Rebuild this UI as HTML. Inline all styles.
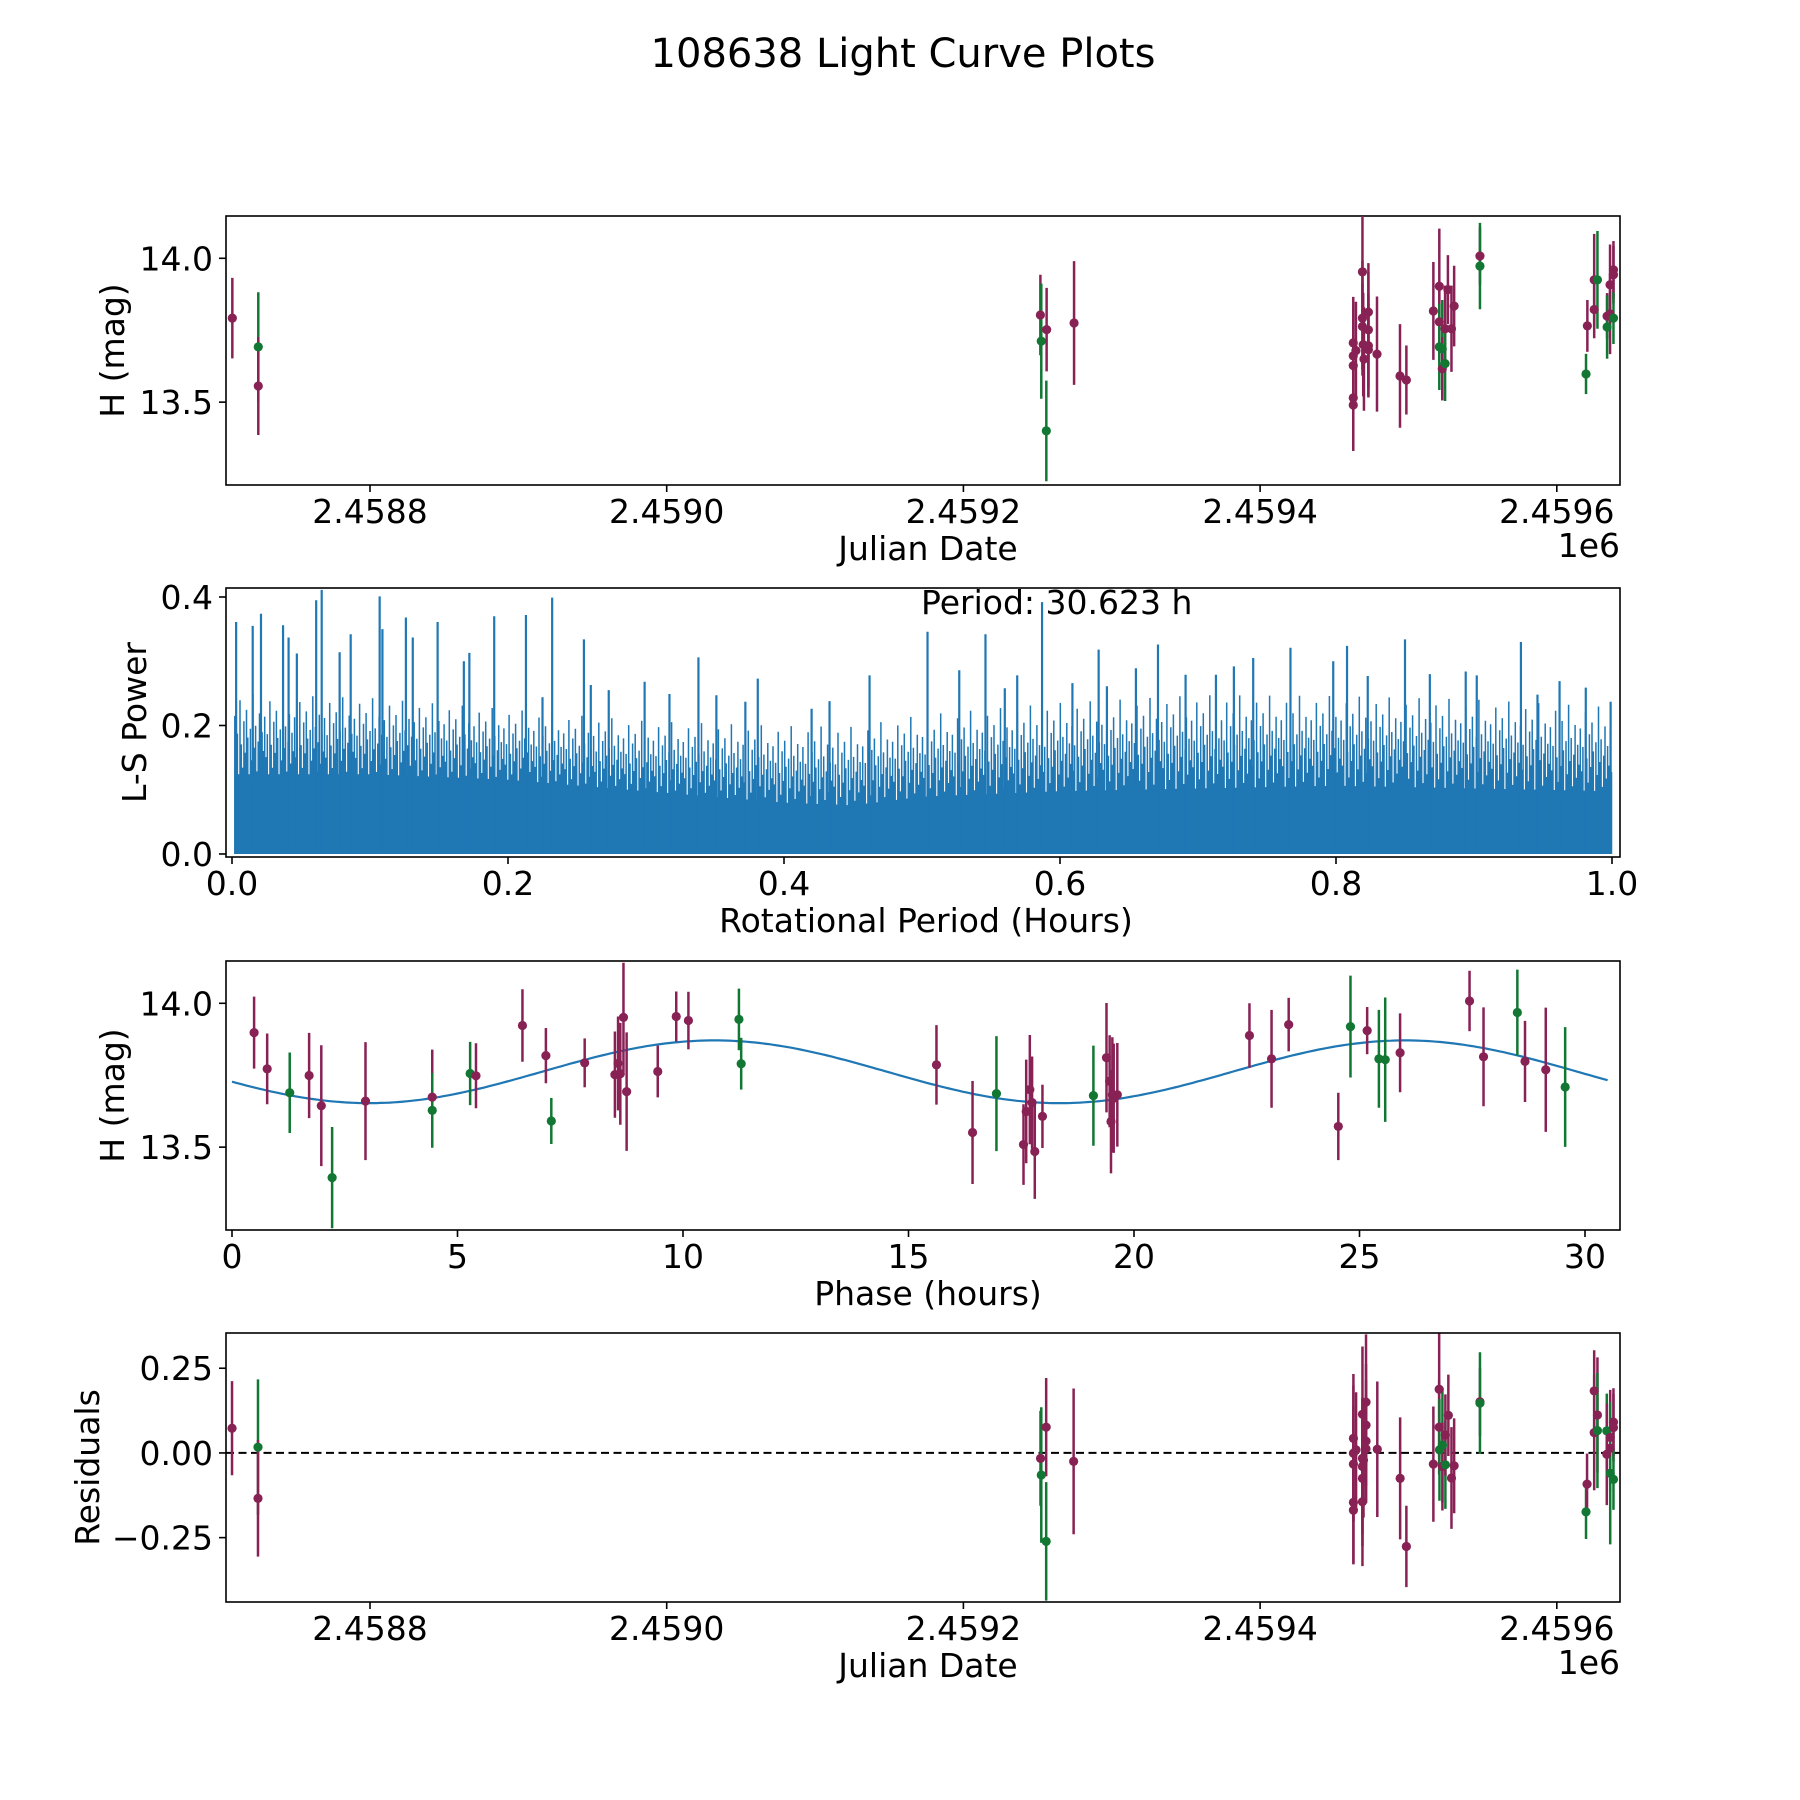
<!DOCTYPE html>
<html><head><meta charset="utf-8"><title>108638 Light Curve Plots</title>
<style>html,body{margin:0;padding:0;background:#fff}svg{display:block;font-family:"DejaVu Sans","Liberation Sans",sans-serif}</style>
</head><body>
<svg id="fig" width="1800" height="1800" viewBox="0 0 1800 1800" xmlns="http://www.w3.org/2000/svg">
<rect width="1800" height="1800" fill="#fff"/>
<text x="903" y="67" font-size="40" text-anchor="middle">108638 Light Curve Plots</text>
</svg>
<script>
// ---- Panel 1: light curve vs Julian Date ----
const p1Jd = [2458707.2,2458724.7,2458724.7,2459251.9,2459256.1,2459252.5,2459255.9,2459274.6,2459462.8,2459462.8,2459462.8,2459462.8,2459462.8,2459464.6,2459469.0,2459469.0,2459469.0,2459470.0,2459469.5,2459473.0,2459473.0,2459473.0,2459473.0,2459478.8,2459494.3,2459498.6,2459516.8,2459520.8,2459520.8,2459520.8,2459522.8,2459522.8,2459524.7,2459524.7,2459526.6,2459529.0,2459530.8,2459548.2,2459548.2,2459619.7,2459620.6,2459625.2,2459625.2,2459627.4,2459633.9,2459633.9,2459635.9,2459635.9,2459638.2,2459638.2,2459638.2];
const p1Mag = [13.792,13.692,13.556,13.803,13.752,13.712,13.40,13.775,13.706,13.661,13.627,13.515,13.490,13.679,13.953,13.792,13.763,13.650,13.700,13.813,13.751,13.696,13.682,13.667,13.591,13.577,13.817,13.903,13.779,13.692,13.685,13.616,13.755,13.634,13.891,13.755,13.834,14.008,13.973,13.598,13.765,13.822,13.925,13.925,13.799,13.761,13.908,13.807,13.96,13.943,13.792];
const p1Err = [0.14,0.19,0.17,0.14,0.145,0.2,0.175,0.215,0.16,0.17,0.15,0.18,0.16,0.17,0.2,0.2,0.15,0.18,0.18,0.17,0.2,0.18,0.16,0.2,0.18,0.12,0.17,0.2,0.14,0.15,0.17,0.11,0.15,0.13,0.12,0.15,0.14,0.1,0.15,0.07,0.09,0.1,0.16,0.17,0.08,0.11,0.14,0.14,0.1,0.1,0.09];
const p1Band = ['m','g','m','m','m','g','g','m','m','m','m','m','m','m','m','m','m','m','m','m','m','m','m','m','m','m','m','m','m','g','g','m','m','g','m','m','m','m','g','g','m','m','m','g','m','g','m','m','m','m','g'];
const jdTicks = [2458800,2459000,2459200,2459400,2459600];
const jdTickLabels = ['2.4588','2.4590','2.4592','2.4594','2.4596'];
const magTicks = [14.0,13.5];
const magTickLabels = ['14.0','13.5'];

// ---- Panel 2: Lomb-Scargle periodogram ----
const lsSpikePeriod = [0.003,0.015,0.021,0.037,0.041,0.047,0.061,0.065,0.078,0.086,0.107,0.109,0.126,0.131,0.149,0.168,0.172,0.190,0.213,0.225,0.232,0.255,0.260,0.273,0.299,0.317,0.338,0.351,0.381,0.372,0.420,0.433,0.462,0.504,0.527,0.546,0.560,0.569,0.587,0.609,0.628,0.634,0.655,0.671,0.691,0.713,0.726,0.740,0.767,0.798,0.808,0.823,0.850,0.868,0.894,0.902,0.934,0.946,0.962,0.981,0.999];
const lsSpikePower = [0.361,0.355,0.374,0.356,0.337,0.312,0.395,0.411,0.314,0.342,0.401,0.35,0.368,0.337,0.361,0.30,0.313,0.37,0.372,0.244,0.399,0.334,0.263,0.255,0.268,0.249,0.306,0.247,0.273,0.237,0.226,0.238,0.278,0.346,0.286,0.342,0.258,0.278,0.392,0.266,0.318,0.261,0.289,0.326,0.279,0.279,0.292,0.305,0.321,0.30,0.324,0.277,0.334,0.28,0.284,0.278,0.33,0.248,0.269,0.259,0.237];
const lsGridPeriod = [0.0,0.1,0.2,0.3,0.4,0.45,0.5,0.6,0.7,0.8,0.9,1.0];
const lsSolidPower = [0.146,0.146,0.136,0.115,0.094,0.089,0.105,0.115,0.12,0.125,0.12,0.115];
const lsBandPower = [0.215,0.21,0.195,0.177,0.167,0.165,0.182,0.198,0.208,0.208,0.203,0.193];
const lsTicks = [0.0,0.2,0.4,0.6,0.8,1.0];
const lsTickLabels = ['0.0','0.2','0.4','0.6','0.8','1.0'];
const powTicks = [0.0,0.2,0.4];
const powTickLabels = ['0.0','0.2','0.4'];

// ---- Panel 3: phase folded ----
const p3Phase = [0.49,0.78,1.28,1.71,1.98,2.22,2.96,4.44,4.44,5.28,5.41,6.44,6.96,7.08,7.82,8.49,8.56,8.61,8.68,8.75,9.44,9.85,10.12,11.24,11.29,15.62,16.42,16.95,17.55,17.61,17.69,17.74,17.80,17.97,19.10,19.39,19.46,19.49,19.52,19.55,19.63,22.56,23.05,23.43,24.53,24.80,25.17,25.43,25.57,25.90,27.44,27.75,28.50,28.67,29.13,29.56];
const p3Mag = [13.898,13.772,13.689,13.749,13.644,13.394,13.66,13.674,13.628,13.756,13.748,13.923,13.818,13.591,13.793,13.752,13.791,13.755,13.951,13.693,13.763,13.954,13.94,13.944,13.79,13.786,13.551,13.686,13.509,13.624,13.70,13.655,13.485,13.607,13.679,13.811,13.729,13.589,13.682,13.67,13.682,13.888,13.807,13.926,13.572,13.919,13.905,13.807,13.804,13.828,14.008,13.814,13.968,13.798,13.769,13.709];
const p3Err = [0.125,0.123,0.14,0.148,0.21,0.176,0.205,0.165,0.13,0.11,0.113,0.126,0.096,0.08,0.085,0.15,0.163,0.177,0.19,0.206,0.09,0.087,0.1,0.107,0.09,0.138,0.179,0.2,0.14,0.18,0.19,0.16,0.165,0.11,0.174,0.19,0.16,0.18,0.2,0.19,0.18,0.112,0.17,0.093,0.117,0.177,0.082,0.17,0.216,0.137,0.105,0.172,0.149,0.141,0.216,0.208];
const p3Band = ['m','m','g','m','m','g','m','m','g','g','m','m','m','g','m','m','m','m','m','m','m','m','m','g','g','m','m','g','m','m','m','m','m','m','g','m','m','m','m','m','m','m','m','m','m','g','m','g','g','m','m','m','g','m','m','g'];
const modelParams = [13.762, 0.109, 30.623, 6.87]; // mean, amplitude, period (h), phase offset (h)
const phaseTicks = [0,5,10,15,20,25,30];
const phaseTickLabels = ['0','5','10','15','20','25','30'];

// ---- Panel 4: residuals ----
const p4Jd = [2458707.0,2458724.5,2458724.5,2459252.0,2459252.5,2459255.8,2459255.8,2459274.3,2459462.9,2459462.9,2459462.9,2459462.9,2459462.9,2459464.7,2459469.0,2459469.0,2459469.0,2459469.0,2459469.0,2459469.7,2459471.4,2459471.4,2459471.4,2459471.4,2459479.0,2459494.4,2459498.6,2459516.8,2459520.7,2459520.7,2459520.9,2459522.9,2459522.9,2459524.9,2459524.9,2459526.9,2459529.0,2459530.8,2459548.2,2459548.2,2459619.7,2459620.4,2459625.2,2459625.2,2459627.4,2459627.4,2459633.7,2459633.7,2459636.0,2459636.0,2459636.0,2459638.2,2459638.2,2459638.2];
const p4Res = [0.073,0.017,-0.134,-0.016,-0.065,0.076,-0.261,-0.025,0.043,-0.001,-0.033,-0.146,-0.169,0.009,0.114,-0.075,-0.144,-0.04,-0.016,-0.021,0.15,0.082,0.035,0.012,0.011,-0.075,-0.276,-0.033,0.188,0.076,0.009,0.023,-0.04,-0.035,0.053,0.111,-0.074,-0.038,0.151,0.147,-0.174,-0.092,0.183,0.06,0.112,0.066,0.065,-0.004,0.046,0.014,-0.06,0.091,0.075,-0.078];
const p4Err = [0.139,0.2,0.172,0.14,0.2,0.145,0.175,0.215,0.19,0.2,0.17,0.18,0.16,0.17,0.2,0.2,0.19,0.2,0.18,0.17,0.2,0.18,0.18,0.16,0.2,0.18,0.12,0.17,0.2,0.14,0.15,0.17,0.13,0.13,0.12,0.12,0.15,0.14,0.1,0.15,0.08,0.09,0.12,0.17,0.17,0.17,0.11,0.15,0.14,0.13,0.21,0.1,0.1,0.09];
const p4Band = ['m','g','m','m','g','m','g','m','m','m','m','m','m','m','m','m','m','m','m','m','m','m','m','m','m','m','m','m','m','m','g','g','m','g','m','m','m','m','m','g','g','m','m','m','m','g','g','m','m','m','g','m','m','g'];
const resTicks = [0.25,0.0,-0.25];
const resTickLabels = ['0.25','0.00','\u22120.25'];

// ---- layout ----
const NS = 'http://www.w3.org/2000/svg';
const svg = document.getElementById('fig');
const L = 226, R = 1620, H = 269;
const tops = [216, 588, 961, 1333];
const COL = {m:'#882255', g:'#117733'};
const FS = 33;

function mk(tag, attrs, parent){ const e=document.createElementNS(NS,tag); for(const k in attrs) e.setAttribute(k,attrs[k]); (parent||svg).appendChild(e); return e; }

const xJd = jd => 370 + (jd - 2458800) * 1.4835;
const magLim = [13.212, 14.147];
const yMag = (top, m) => top + (magLim[1] - m) / (magLim[1] - magLim[0]) * H;
const xLs = p => 232 + p * 1380;
const yPow = v => tops[1] + (0.414 - v) / (0.414 + 0.0047) * H;
const xPh = ph => 232 + ph * 45.1;
const yRes = r => tops[3] + (0.354 - r) / (0.354 + 0.44) * H;
const modelAt = t => modelParams[0] + modelParams[1] * Math.sin(4 * Math.PI * (t - modelParams[3]) / modelParams[2]);

function group(name){ const g=mk('g',{});   return g; }

function frame(i, name){
  const r = mk('rect',{x:L,y:tops[i],width:R-L,height:H,fill:'none',stroke:'#000','stroke-width':1.6});
  
  
}
function xTicks(i, vals, labels, fx, axisName){
  const g = group(axisName);
  const b = tops[i] + H;
  vals.forEach((v,k)=>{
    const x = fx(v);
    const t = mk('line',{x1:x,x2:x,y1:b,y2:b+7,stroke:'#000','stroke-width':1.6},g);
    
    
    const tx = mk('text',{x:x,y:b+38,'font-size':FS,'text-anchor':'middle'},g);
    tx.textContent = labels[k];
    
    
  });
}
function yTicks(i, vals, labels, fy, axisName){
  const g = group(axisName);
  vals.forEach((v,k)=>{
    const y = fy(v);
    const t = mk('line',{x1:L-7,x2:L,y1:y,y2:y,stroke:'#000','stroke-width':1.6},g);
    
    
    const tx = mk('text',{x:L-13,y:y+12,'font-size':FS,'text-anchor':'end'},g);
    tx.textContent = labels[k];
    
    
  });
}
function label(x, y, txt, rot, name, anchor){
  const t = mk('text',{x:x,y:y,'font-size':FS,'text-anchor':anchor||'middle'});
  if(rot) t.setAttribute('transform','rotate(-90 '+x+' '+y+')');
  t.textContent = txt;
  
  
  return t;
}
function errPoints(xs, ys, es, bands, fx, fy, name, clipTop, clipBot){
  const g = group(name);
  xs.forEach((xv,k)=>{
    const x = fx(xv);
    let y1 = fy(ys[k]+es[k]), y2 = fy(ys[k]-es[k]);
    y1 = Math.max(y1, clipTop); y2 = Math.min(y2, clipBot);
    const c = COL[bands[k]];
    const l = mk('line',{x1:x,x2:x,y1:y1,y2:y2,stroke:c,'stroke-width':2.5},g);
    
    
  });
  xs.forEach((xv,k)=>{
    const p = mk('circle',{cx:fx(xv),cy:fy(ys[k]),r:4.6,fill:COL[bands[k]]},g);
    
    
  });
}

// ---- Panel 1 ----
frame(0,'lightcurve-axes');
errPoints(p1Jd,p1Mag,p1Err,p1Band,xJd,m=>yMag(tops[0],m),'lightcurve-points',tops[0],tops[0]+H);
xTicks(0,jdTicks,jdTickLabels,xJd,'lightcurve-x-axis');
yTicks(0,magTicks,magTickLabels,m=>yMag(tops[0],m),'lightcurve-y-axis');
label(928,tops[0]+H+75,'Julian Date',false,'lightcurve-x-title');
label(R,tops[0]+H+72,'1e6',false,'lightcurve-x-offset','end');
label(124,tops[0]+H/2,'H (mag)',true,'lightcurve-y-title');

// ---- Panel 2: periodogram ----
const pg = group('periodogram-line');
function interp(arrX, arrY, x){
  for(let k=0;k<arrX.length-1;k++){ if(x<=arrX[k+1]){ const f=(x-arrX[k])/(arrX[k+1]-arrX[k]); return arrY[k]+f*(arrY[k+1]-arrY[k]); } }
  return arrY[arrY.length-1];
}
let d = 'M'+xLs(0.002)+','+yPow(0);
for(let px=xLs(0.002); px<=xLs(1.0); px+=4){ const p=(px-232)/1380; d+=' L'+px+','+yPow(0.85*interp(lsGridPeriod,lsSolidPower,p)); }
d += ' L'+xLs(1.0)+','+yPow(0)+' Z';
const solid = mk('path',{d:d,fill:'#1f77b4'},pg);


const texture = [1.0,0.35,0.72,0.05,1.25,0.55,0.18,0.92,0.42,1.1,0.66,0.0,0.8,0.3,1.35,0.5,0.85,0.12,0.6,1.05,0.25,0.75,0.45];
let td = '';
let k2 = 0;
for(let px=xLs(0.002); px<=xLs(1.0); px+=1.3, k2++){
  const p=(px-232)/1380;
  const s=interp(lsGridPeriod,lsSolidPower,p), b=interp(lsGridPeriod,lsBandPower,p);
  const v = 0.8*s + (b - 0.8*s) * texture[k2 % texture.length];
  td += 'M'+px.toFixed(1)+','+yPow(0).toFixed(1)+'V'+yPow(v).toFixed(1);
}
const tex = mk('path',{d:td,stroke:'#1f77b4','stroke-width':1.5,fill:'none'},pg);


lsSpikePeriod.forEach((p,k)=>{
  const x = xLs(p);
  const s = mk('line',{x1:x,x2:x,y1:yPow(0),y2:Math.max(yPow(lsSpikePower[k]),tops[1]),stroke:'#1f77b4','stroke-width':2.2},pg);
  
  
});
frame(1,'periodogram-axes');
xTicks(1,lsTicks,lsTickLabels,xLs,'periodogram-x-axis');
yTicks(1,powTicks,powTickLabels,yPow,'periodogram-y-axis');
label(926,tops[1]+H+75,'Rotational Period (Hours)',false,'periodogram-x-title');
label(146,tops[1]+H/2,'L-S Power',true,'periodogram-y-title');
label(921,614,'Period: 30.623 h',false,'period-annotation','start');

// ---- Panel 3: phased ----
const mg = group('model-curve');
let md='';
for(let t=0; t<=30.6; t+=0.1){ md += (t===0?'M':' L')+xPh(t).toFixed(1)+','+yMag(tops[2],modelAt(t)).toFixed(1); }
const mc = mk('path',{d:md,stroke:'#1f77b4','stroke-width':2.2,fill:'none'},mg);


errPoints(p3Phase,p3Mag,p3Err,p3Band,xPh,m=>yMag(tops[2],m),'phased-points',tops[2],tops[2]+H);
frame(2,'phased-axes');
xTicks(2,phaseTicks,phaseTickLabels,xPh,'phased-x-axis');
yTicks(2,magTicks,magTickLabels,m=>yMag(tops[2],m),'phased-y-axis');
label(928,tops[2]+H+75,'Phase (hours)',false,'phased-x-title');
label(124,tops[2]+H/2,'H (mag)',true,'phased-y-title');

// ---- Panel 4: residuals ----
const zl = mk('line',{x1:L,x2:R,y1:yRes(0),y2:yRes(0),stroke:'#000','stroke-width':2,'stroke-dasharray':'8,4.5'});


errPoints(p4Jd,p4Res,p4Err,p4Band,xJd,yRes,'residual-points',tops[3],tops[3]+H);
frame(3,'residuals-axes');
xTicks(3,jdTicks,jdTickLabels,xJd,'residuals-x-axis');
yTicks(3,resTicks,resTickLabels,yRes,'residuals-y-axis');
label(928,tops[3]+H+75,'Julian Date',false,'residuals-x-title');
label(R,tops[3]+H+72,'1e6',false,'residuals-x-offset','end');
label(99,tops[3]+H/2,'Residuals',true,'residuals-y-title');
</script>
</body></html>
